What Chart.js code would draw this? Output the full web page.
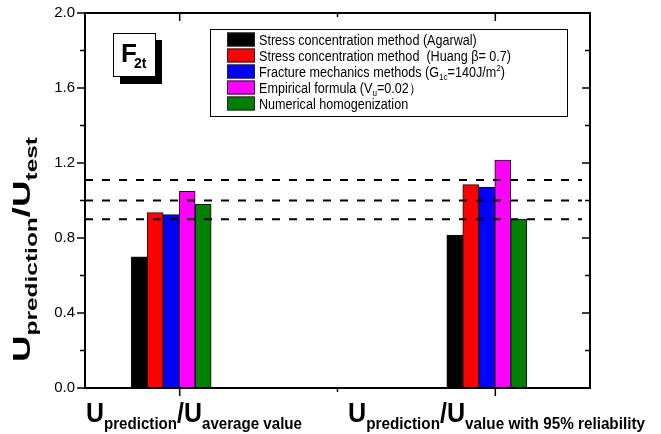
<!DOCTYPE html>
<html><head><meta charset="utf-8">
<script src="https://cdn.jsdelivr.net/npm/chart.js@4.4.1/dist/chart.umd.min.js"></script>
<style>html,body{margin:0;padding:0;background:#fff;}#wrap{width:661px;height:434px;}</style>
</head><body><div id="wrap"><canvas id="c" width="661" height="434"></canvas></div>
<script>
// ---------- data ----------
const categories = ['average value', 'value with 95% reliability'];
const seriesNames = [
  'Stress concentration method (Agarwal)',
  'Stress concentration method  (Huang \u03b2= 0.7)',
  'Fracture mechanics methods (G1c=140J/m2)',
  'Empirical formula (Vu=0.02)',
  'Numerical homogenization'
];
const agarwal   = [0.70, 0.816];
const huang     = [0.935, 1.085];
const fracture  = [0.925, 1.072];
const empirical = [1.049, 1.216];
const numerical = [0.98, 0.901];
const refLines  = [1.11, 1.0, 0.9];
const yTickLabels = ['0.0', '0.4', '0.8', '1.2', '1.6', '2.0'];
const colors = ['#000000', '#ff0000', '#0000ff', '#ff00ff', '#008000'];

// rich legend text pieces (text, kind)
const legendRich = [
  [['Stress concentration method (Agarwal)', 'n']],
  [['Stress concentration method  (Huang \u03b2= 0.7)', 'n']],
  [['Fracture mechanics methods (G', 'n'], ['1c', 'sub'], ['=140J/m', 'n'], ['2', 'sup'], [')', 'n']],
  [['Empirical formula (V', 'n'], ['u', 'sub'], ['=0.02\uff09', 'n']],
  [['Numerical homogenization', 'n']]
];

const FAM = "'Liberation Sans', Arial, sans-serif";
const allSeries = [agarwal, huang, fracture, empirical, numerical];

function segWidth(ctx, segs) {
  let w = 0;
  for (const s of segs) { ctx.font = s.font; w += ctx.measureText(s.t).width; }
  return w;
}
function drawSegs(ctx, segs, x, y) {
  let cx = x;
  for (const s of segs) {
    ctx.font = s.font;
    ctx.fillText(s.t, cx, y + (s.dy || 0));
    cx += ctx.measureText(s.t).width;
  }
}
function axisLabel(sub) {
  return [
    {t: 'U', font: 'bold 28px ' + FAM},
    {t: 'prediction', font: 'bold 17px ' + FAM, dy: 7},
    {t: '/U', font: 'bold 28px ' + FAM},
    {t: sub, font: 'bold 17px ' + FAM, dy: 7}
  ];
}

const decor = {
  id: 'decor',
  afterDatasetsDraw(chart) {
    const ctx = chart.ctx;
    const a = chart.chartArea;
    const ys = chart.scales.y, xs = chart.scales.x;
    ctx.save();
    ctx.fillStyle = '#000';
    ctx.strokeStyle = '#000';
    ctx.textBaseline = 'alphabetic';
    ctx.textAlign = 'left';

    // dashed reference lines
    ctx.setLineDash([8, 9]);
    ctx.lineWidth = 2;
    for (const v of refLines) {
      const py = ys.getPixelForValue(v);
      ctx.beginPath(); ctx.moveTo(a.left, py); ctx.lineTo(a.right - 8, py); ctx.stroke();
    }
    ctx.setLineDash([]);

    // frame
    ctx.lineWidth = 2;
    ctx.strokeRect(a.left, a.top, a.right - a.left, a.bottom - a.top);

    // y ticks (major outward left, inward right)
    ctx.lineWidth = 1.5;
    for (let i = 0; i <= 10; i++) {
      const v = i * 0.2;
      const py = ys.getPixelForValue(v);
      const len = (i % 2 === 0) ? 8 : 5;
      ctx.beginPath();
      ctx.moveTo(a.left - len, py); ctx.lineTo(a.left, py);
      ctx.moveTo(a.right, py); ctx.lineTo(a.right - len, py);
      ctx.stroke();
    }
    // x ticks
    const xt = [[1, 8], [1.5, 4], [2, 8]];
    for (const [v, len] of xt) {
      const px = xs.getPixelForValue(v);
      ctx.beginPath();
      ctx.moveTo(px, a.bottom); ctx.lineTo(px, a.bottom + len);
      ctx.moveTo(px, a.top); ctx.lineTo(px, a.top + len);
      ctx.stroke();
    }

    // F2t box
    ctx.fillStyle = '#000';
    ctx.fillRect(120, 40, 42, 44);
    ctx.fillStyle = '#fff';
    ctx.fillRect(113, 33, 42, 44);
    ctx.lineWidth = 1;
    ctx.strokeRect(113.5, 33.5, 42, 43);
    ctx.fillStyle = '#000';
    ctx.font = 'bold 26px ' + FAM;
    ctx.fillText('F', 121, 62);
    ctx.font = 'bold 14px ' + FAM;
    ctx.fillText('2t', 134, 68);

    // legend
    ctx.fillStyle = '#fff';
    ctx.fillRect(210, 29, 357, 87);
    ctx.lineWidth = 1;
    ctx.strokeRect(210.5, 29.5, 357, 87);
    for (let i = 0; i < legendRich.length; i++) {
      const cy = 39.5 + 16 * i;
      ctx.fillStyle = colors[i];
      ctx.fillRect(227, cy - 7, 28, 14);
      ctx.strokeStyle = '#222';
      ctx.strokeRect(227.5, cy - 6.5, 27, 13);
      ctx.fillStyle = '#000';
      const segs = legendRich[i].map(([t, k]) => ({
        t,
        font: (k === 'n' ? '14px ' : '9px ') + FAM,
        dy: k === 'sub' ? 3 : (k === 'sup' ? -6 : 0)
      }));
      ctx.save();
      ctx.translate(259, cy + 5.5);
      ctx.scale(0.9, 1);
      drawSegs(ctx, segs, 0, 0);
      ctx.restore();
    }

    // x category labels
    const xl = [[86, 302], [348, 645]];
    for (let i = 0; i < categories.length; i++) {
      const segs = axisLabel(categories[i]);
      const w = segWidth(ctx, segs);
      const [l, r] = xl[i];
      ctx.save();
      ctx.translate(l, 422);
      ctx.scale((r - l) / w, 1);
      drawSegs(ctx, segs, 0, 0);
      ctx.restore();
    }

    // y title
    const ysegs = [
      {t: 'U', font: 'bold 24px ' + FAM},
      {t: 'prediction', font: 'bold 16px ' + FAM, dy: 7},
      {t: '/U', font: 'bold 24px ' + FAM},
      {t: 'test', font: 'bold 16px ' + FAM, dy: 7}
    ];
    const yw = segWidth(ctx, ysegs);
    const yTop = 137, yBot = 362;
    ctx.save();
    ctx.translate(30, yBot);
    ctx.rotate(-Math.PI / 2);
    ctx.scale((yBot - yTop) / yw, 1);
    drawSegs(ctx, ysegs, 0, 0);
    ctx.restore();

    ctx.restore();
  }
};

new Chart(document.getElementById('c'), {
  type: 'bar',
  data: {
    datasets: allSeries.map((vals, k) => ({
      label: seriesNames[k],
      data: vals.map((v, i) => ({x: i + 1, y: v})),
      xAxisID: 'xb',
      backgroundColor: colors[k],
      borderColor: '#111',
      borderWidth: 1,
      barThickness: 16
    }))
  },
  options: {
    responsive: false,
    animation: false,
    devicePixelRatio: 1,
    layout: {padding: {left: 0, top: 13, right: 71, bottom: 46}},
    plugins: {legend: {display: false}, tooltip: {enabled: false}},
    scales: {
      x: {type: 'linear', min: 0.7, max: 2.3, offset: false, display: false},
      xb: {type: 'linear', min: 0.727, max: 2.327, offset: false, display: false},
      y: {
        min: 0, max: 2,
        afterBuildTicks(s) { s.ticks = yTickLabels.map(t => ({value: parseFloat(t)})); },
        ticks: {
          callback: (v, i) => yTickLabels[i],
          color: '#000', padding: 2,
          font: {family: FAM, size: 15}
        },
        grid: {display: true, drawOnChartArea: false, drawTicks: true, tickLength: 8, color: 'rgba(0,0,0,0)'},
        border: {display: false},
        afterFit(s) { s.width = 85; }
      }
    }
  },
  plugins: [decor]
});
</script>
</body></html>
